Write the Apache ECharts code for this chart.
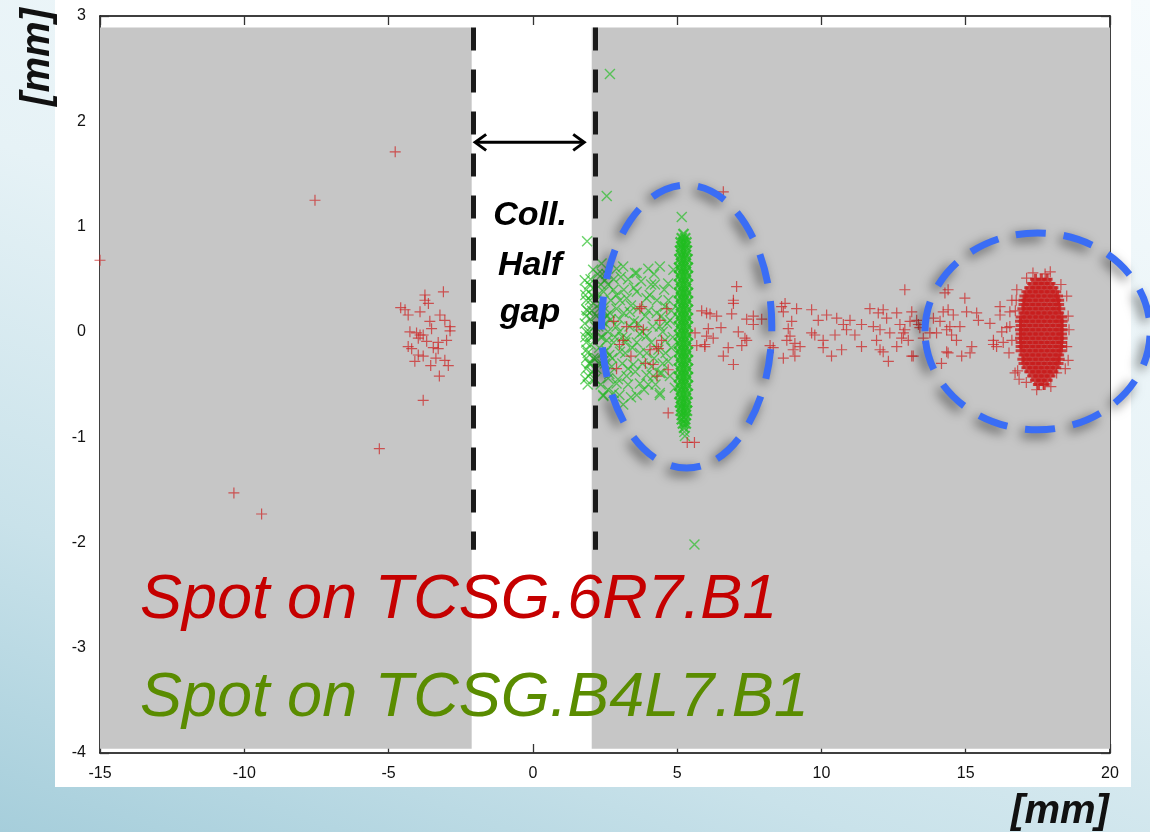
<!DOCTYPE html>
<html><head><meta charset="utf-8">
<script src="https://cdn.jsdelivr.net/npm/echarts/dist/echarts.min.js"></script>
<style>
html,body{margin:0;padding:0;width:1150px;height:832px;overflow:hidden;}
body{background:linear-gradient(200deg,#f6fbfd 0%,#e6f2f6 45%,#c9e2ea 75%,#a6cedb 100%);position:relative;}
#frame{position:absolute;left:55px;top:0;width:1076px;height:787px;background:#ffffff;}
#chart{position:absolute;left:0;top:0;width:1150px;height:832px;}
</style></head>
<body><div id="frame"></div><div id="chart"></div>
<script>
// ---- axis ranges / ticks ----
const xRange = [-15, 20, 5];
const yRange = [-4, 3, 1];

// ---- series: spot on TCSG.6R7.B1 (red +) : sparse points ----
const redPoints = [
 [-15.0,0.68],[-7.55,1.25],[-4.77,1.71],[-5.32,-1.11],[-10.36,-1.53],[-9.40,-1.73],[-3.80,-0.65],
 [-3.10,0.38],[-3.74,0.35],[-3.74,0.30],[-3.62,0.27],[-4.58,0.23],[-4.43,0.21],[-4.32,0.16],[-3.91,0.19],[-3.22,0.16],
 [-3.05,0.11],[-3.57,0.10],[-3.51,0.03],[-2.87,0.05],[-2.87,0.01],[-4.26,0.00],[-4.03,-0.01],[-3.91,-0.03],[-3.80,-0.03],
 [-3.97,-0.06],[-3.68,-0.09],[-2.99,-0.08],[-3.28,-0.10],[-4.32,-0.14],[-4.20,-0.16],[-3.45,-0.15],[-3.28,-0.16],
 [-3.97,-0.22],[-3.80,-0.23],[-3.36,-0.25],[-4.09,-0.28],[-3.05,-0.27],[-2.93,-0.32],[-3.54,-0.32],[-3.24,-0.42],
 [3.71,0.22],[3.83,0.02],[4.29,-0.14],[4.17,-0.31],[4.69,-0.36],[4.64,0.22],[4.40,0.11],[3.25,0.05],[3.13,-0.08],
 [4.06,-0.17],[4.46,-0.08],[4.35,-0.16],[3.77,0.24],[3.00,-0.12],[3.40,-0.23],[3.90,-0.30],[2.90,-0.35],[4.30,-0.42],
 [3.60,0.05],[2.80,0.10],[4.69,-0.77],[5.35,-1.05],[5.60,-1.05],[6.60,1.33],
 [7.06,0.43],[6.95,0.30],[6.95,0.27],[6.89,0.17],[5.85,0.20],[6.14,0.17],[6.37,0.15],[7.41,0.12],[7.64,0.15],[7.93,0.12],
 [7.64,0.07],[6.52,0.04],[6.08,0.03],[5.62,-0.01],[7.12,0.00],[6.02,-0.04],[6.25,-0.06],[7.35,-0.06],[7.41,-0.08],
 [5.68,-0.13],[5.96,-0.14],[7.24,-0.13],[6.77,-0.15],[8.22,-0.13],[6.60,-0.23],[6.95,-0.31],[8.62,0.24],[8.68,0.19],
 [8.68,-0.25],[8.33,-0.15],[6.02,0.18],[5.96,-0.12],
 [8.74,0.27],[9.14,0.22],[9.66,0.21],[8.97,0.10],[8.85,0.03],[8.91,-0.04],[8.80,-0.08],[9.08,-0.11],[9.26,-0.14],
 [9.02,-0.17],[9.08,-0.23],[9.66,-0.01],[9.77,-0.03],[9.89,0.11],[10.18,0.16],[10.06,-0.08],[10.06,-0.15],[10.47,-0.03],
 [10.53,0.13],[10.35,-0.23],[10.76,0.07],[10.99,0.11],[11.16,-0.03],[10.87,0.02],[10.70,-0.17],[11.39,0.07],[11.39,-0.14],
 [11.68,0.22],[11.80,0.05],[11.97,0.18],[12.14,0.21],[12.03,0.02],[11.91,-0.08],[12.03,-0.17],[12.14,-0.19],[12.32,-0.28],
 [12.26,0.13],[12.37,-0.01],[12.61,-0.14],[12.61,0.18],[12.72,0.07],[12.84,-0.01],[12.89,0.40],[12.78,-0.06],[13.13,0.19],
 [13.07,0.10],[13.30,0.11],[13.01,-0.08],[13.41,0.04],[13.53,-0.06],[13.13,-0.23],[13.88,0.13],[13.99,-0.01],[14.11,0.10],
 [14.22,0.19],[14.28,0.37],[14.39,0.40],[14.34,0.02],[14.34,-0.19],[14.16,-0.30],[14.57,0.16],[14.45,0.05],[14.51,-0.03],
 [14.68,-0.08],[14.80,0.05],[14.86,-0.23],[14.97,0.32],[15.03,0.19],[15.21,-0.14],[15.15,-0.20],[15.38,0.18],[15.44,0.11],
 [15.84,0.08],[15.96,-0.08],[16.07,-0.14],[16.19,0.24],[16.19,0.16],[16.53,0.19],[16.25,0.00],[16.42,0.04],
 [13.36,0.07],[12.89,0.02],[13.76,-0.01],[14.39,0.21],[15.96,-0.12],[13.18,-0.23],[14.39,-0.20],[16.30,-0.10],[16.50,-0.20],[16.60,0.30],
 [17.93,0.57],[17.33,0.56],[17.11,0.51],[18.50,0.34],[18.55,0.15],[18.55,-0.27],[18.50,-0.14],[16.77,0.40],[16.72,0.20],
 [16.71,-0.39],[16.80,-0.37],[17.46,-0.55],[17.69,-0.50],[17.10,-0.48],[18.15,-0.39],[16.53,0.05],[16.60,-0.08],
 [17.75,0.55],[18.30,0.45],[18.45,-0.35],[16.85,-0.45],[17.95,-0.52],[16.75,0.30],[18.58,0.02]
];
// dense spot of the red series, listed row by row: [y, [x values]]
const redCoreRows = [
 [0.50,[17.42,17.62,17.82]],
 [0.46,[17.32,17.52,17.72,17.92]],
 [0.42,[17.22,17.42,17.62,17.82,18.02]],
 [0.38,[17.12,17.32,17.52,17.72,17.92,18.12]],
 [0.34,[17.05,17.22,17.42,17.62,17.82,18.02,18.18]],
 [0.30,[17.02,17.12,17.32,17.52,17.72,17.92,18.12,18.22]],
 [0.26,[17.02,17.22,17.42,17.62,17.82,18.02,18.22]],
 [0.22,[16.98,17.12,17.32,17.52,17.72,17.92,18.12,18.26]],
 [0.18,[17.02,17.22,17.42,17.62,17.82,18.02,18.22]],
 [0.14,[16.92,17.12,17.32,17.52,17.72,17.92,18.12,18.32]],
 [0.10,[16.90,17.02,17.22,17.42,17.62,17.82,18.02,18.22,18.34]],
 [0.06,[16.92,17.12,17.32,17.52,17.72,17.92,18.12,18.32]],
 [0.02,[16.90,17.02,17.22,17.42,17.62,17.82,18.02,18.22,18.34]],
 [-0.02,[16.92,17.12,17.32,17.52,17.72,17.92,18.12,18.32]],
 [-0.06,[16.90,17.02,17.22,17.42,17.62,17.82,18.02,18.22,18.34]],
 [-0.10,[16.92,17.12,17.32,17.52,17.72,17.92,18.12,18.32]],
 [-0.14,[16.92,17.02,17.22,17.42,17.62,17.82,18.02,18.22,18.32]],
 [-0.18,[16.92,17.12,17.32,17.52,17.72,17.92,18.12,18.30]],
 [-0.22,[17.02,17.22,17.42,17.62,17.82,18.02,18.22]],
 [-0.26,[16.98,17.12,17.32,17.52,17.72,17.92,18.12,18.24]],
 [-0.30,[17.02,17.22,17.42,17.62,17.82,18.02,18.20]],
 [-0.34,[17.12,17.32,17.52,17.72,17.92,18.12]],
 [-0.38,[17.22,17.42,17.62,17.82,18.02]],
 [-0.42,[17.32,17.52,17.72,17.92]],
 [-0.46,[17.42,17.62,17.82]],
 [-0.50,[17.52,17.72]]
];

// ---- series: spot on TCSG.B4L7.B1 (green x) ----
const greenPoints = [
 [2.67,2.45],[2.56,1.29],[1.88,0.86],[5.16,1.09],[5.60,-2.02],[5.25,-0.95],[5.27,-0.99],
 [1.80,0.49],[2.09,0.59],[2.50,0.49],[3.13,0.62],[3.54,0.56],[4.00,0.60],[4.40,0.62],[4.87,0.59],[4.69,0.46],
 [2.79,0.40],[3.60,0.38],[4.23,0.45],[1.98,0.30],[2.33,0.27],[3.02,0.30],[3.94,0.32],[4.58,0.24],[1.86,0.21],
 [2.67,0.18],[3.36,0.19],[4.29,0.18],[1.80,0.08],[2.27,0.05],[2.90,0.05],[3.65,0.08],[4.40,0.05],[4.75,0.11],
 [1.98,-0.04],[2.56,-0.08],[3.25,-0.06],[3.94,-0.04],[4.58,-0.08],[1.86,-0.17],[2.44,-0.20],[3.02,-0.19],
 [3.71,-0.20],[4.35,-0.17],[1.98,-0.30],[2.73,-0.33],[3.48,-0.31],[4.12,-0.33],[4.69,-0.28],[1.92,-0.42],
 [2.61,-0.44],[3.25,-0.42],[3.94,-0.41],[4.40,-0.39],[2.44,-0.61],[3.13,-0.69],[4.40,-0.60],[4.92,-0.53],
 [2.90,-0.49],[3.71,-0.49],[3.60,0.56],[2.38,0.65],[4.40,-0.58],[2.44,-0.60],[4.17,-0.42],[4.46,-0.39],
 [1.85,0.40],[1.85,0.30],[1.85,0.15],[1.85,0.00],[1.85,-0.10],[1.85,-0.25],[1.85,-0.35],[1.90,-0.50],
 [1.95,0.45],[2.00,0.12],[2.00,-0.12],[2.05,0.35],[2.05,-0.38],
 [2.20,0.15],[2.40,0.10],[2.60,0.00],[2.80,-0.10],[3.00,0.12],[3.20,-0.20],[3.40,0.25],[2.50,-0.30],[2.70,0.30],
 [3.30,-0.35],[3.80,0.00],[4.00,0.20],[4.20,-0.25],[3.60,-0.10],[2.30,-0.15],[2.90,0.22],[3.10,-0.05],[3.50,0.10],
 [4.50,0.00],[4.80,-0.15],[4.70,0.30],[2.35,0.45],[2.15,-0.45],[2.55,0.55],[4.10,0.45],[3.85,-0.55],[2.80,-0.58],
 [3.40,-0.62],[2.20,-0.25],[2.45,0.20],[2.25,0.35],[2.65,-0.22],[3.15,0.40],[2.35,-0.05],[2.55,0.15],
 [2.10,0.42],[2.15,0.05],[2.20,-0.35],[2.25,0.55],[2.30,0.22],[2.35,-0.50],[2.40,-0.05],[2.45,0.38],[2.50,0.08],
 [2.55,-0.18],[2.60,0.45],[2.65,-0.40],[2.70,0.12],[2.75,-0.25],[2.80,0.50],[2.85,-0.05],[2.90,0.35],[2.95,-0.45],
 [3.00,0.00],[3.05,0.52],[3.10,-0.30],[3.15,0.18],[3.20,-0.10],[3.25,0.32],[3.30,-0.50],[3.35,0.05],[3.45,-0.15],
 [3.50,0.42],[3.55,-0.38],[3.65,0.22],[3.70,-0.02],[3.75,0.48],[3.80,-0.30],[3.90,0.15],[3.95,-0.20],[4.05,0.35],
 [4.10,-0.10],[4.15,0.05],[4.25,-0.50],[4.30,0.30],[4.45,0.15],[4.50,-0.30],[4.55,0.40],[4.60,-0.20],[4.65,0.08],
 [4.75,-0.42],[4.80,0.20],[4.85,-0.05],[1.90,0.20],[1.90,-0.20],[1.95,0.00],[1.95,-0.30],[2.00,0.50],[2.05,0.20],
 [2.05,-0.05],[2.10,-0.25],[1.82,0.35],[1.82,-0.05],[1.82,-0.45],[2.20,0.30],[2.30,-0.30],[2.40,0.55],[2.60,-0.55],
 [3.00,-0.60],[3.60,-0.60],[4.00,-0.50],[3.30,0.50],[2.90,0.60],[4.20,0.55]
];
// dense vertical band of the green series, row by row: [y, [x values]]
const greenBandRows = [
 [0.93,[5.22]],[0.89,[5.16,5.28]],[0.85,[5.12,5.22,5.32]],[0.81,[5.14,5.30]],[0.77,[5.10,5.22,5.34]],
 [0.73,[5.14,5.30]],[0.69,[5.08,5.22,5.36]],[0.65,[5.14,5.30]],[0.61,[5.07,5.22,5.37]],[0.57,[5.14,5.30]],
 [0.53,[5.07,5.22,5.37]],[0.49,[5.14,5.30]],[0.45,[5.07,5.22,5.37]],[0.41,[5.14,5.30]],[0.37,[5.07,5.22,5.37]],
 [0.33,[5.14,5.30]],[0.29,[5.07,5.22,5.37]],[0.25,[5.14,5.30]],[0.21,[5.07,5.22,5.37]],[0.17,[5.14,5.30]],
 [0.13,[5.07,5.22,5.37]],[0.09,[5.14,5.30]],[0.05,[5.07,5.22,5.37]],[0.01,[5.14,5.30]],[-0.03,[5.07,5.22,5.37]],
 [-0.07,[5.14,5.30]],[-0.11,[5.07,5.22,5.37]],[-0.15,[5.14,5.30]],[-0.19,[5.07,5.22,5.37]],[-0.23,[5.14,5.30]],
 [-0.27,[5.07,5.22,5.37]],[-0.31,[5.14,5.30]],[-0.35,[5.07,5.22,5.37]],[-0.39,[5.14,5.30]],[-0.43,[5.07,5.22,5.37]],
 [-0.47,[5.14,5.30]],[-0.51,[5.07,5.22,5.37]],[-0.55,[5.14,5.30]],[-0.59,[5.08,5.22,5.36]],[-0.63,[5.14,5.30]],
 [-0.67,[5.10,5.22,5.34]],[-0.71,[5.14,5.30]],[-0.75,[5.12,5.24,5.34]],[-0.79,[5.16,5.30]],[-0.83,[5.16,5.28]],
 [-0.87,[5.20,5.30]],[-0.91,[5.24]]
];

// ---- annotation geometry (data coordinates) ----
const jawLeft = -2.06, jawRight = 2.15, jawTop = 2.89, jawBottom = -2.07;
const grayTop = 2.89, grayBottom = -3.96, grayLeftEnd = -2.12, grayRightStart = 2.04;
const arrowY = 1.80, arrowX = [-2.0, 1.78];
const ellipses = [[5.33,0.05,2.95,1.344],[17.49,0.005,3.90,0.935]];

function rowsToPoints(rows){ const out=[]; rows.forEach(r=>r[1].forEach(x=>out.push([x,r[0]]))); return out; }

const PLUS = 'path://M0,5L10,5M5,0L5,10';
const CROSS = 'path://M0,0L10,10M10,0L0,10';
const RED = '#c81e1e', GREEN = '#20bd20';

const chart = echarts.init(document.getElementById('chart'), null, {renderer:'canvas'});
const axisCommon = {
  type:'value', splitLine:{show:false},
  axisLine:{show:true,onZero:false,lineStyle:{color:'#000',width:1.5}},
  axisTick:{show:true,inside:true,length:9,lineStyle:{color:'#333',width:1.3}}
};
const option = {
  backgroundColor:'transparent',
  animation:false,
  grid:{left:100,right:40,top:16,bottom:79,show:false},
  xAxis:[
    Object.assign({},axisCommon,{min:xRange[0],max:xRange[1],interval:xRange[2],position:'bottom',
      axisLabel:{color:'#111',fontSize:16,margin:13,fontFamily:'"Liberation Sans Narrow","Liberation Sans",Arial'}}),
    Object.assign({},axisCommon,{min:xRange[0],max:xRange[1],interval:xRange[2],position:'top',axisLabel:{show:false}})
  ],
  yAxis:[
    Object.assign({},axisCommon,{min:yRange[0],max:yRange[1],interval:yRange[2],position:'left',
      axisLabel:{color:'#111',fontSize:16,margin:14,fontFamily:'"Liberation Sans",Arial'}}),
    Object.assign({},axisCommon,{min:yRange[0],max:yRange[1],interval:yRange[2],position:'right',axisLabel:{show:false}})
  ],
  series:[
    {type:'scatter',data:[],z:1,silent:true,
     markArea:{silent:true,itemStyle:{color:'#c6c6c6'},label:{show:false},
       data:[[{coord:[xRange[0],grayTop]},{coord:[grayLeftEnd,grayBottom]}],
             [{coord:[grayRightStart,grayTop]},{coord:[xRange[1],grayBottom]}]]},
     markLine:{silent:true,symbol:['none','none'],label:{show:false},animation:false,
       lineStyle:{color:'#1a1a1a',width:5,type:[23,19]},
       data:[[{coord:[jawLeft,jawTop]},{coord:[jawLeft,jawBottom]}],
             [{coord:[jawRight,jawTop]},{coord:[jawRight,jawBottom]}]]}
    },
    {type:'scatter',name:'green',data:greenPoints,symbol:CROSS,symbolSize:10,z:3,silent:true,
     itemStyle:{color:'rgba(0,0,0,0)',borderColor:'rgba(36,190,36,0.85)',borderWidth:1.4}},
    {type:'scatter',name:'greenBand',data:rowsToPoints(greenBandRows),symbol:CROSS,symbolSize:10,z:3,silent:true,
     itemStyle:{color:'rgba(0,0,0,0)',borderColor:GREEN,borderWidth:2.2}},
    {type:'scatter',name:'red',data:redPoints,symbol:PLUS,symbolSize:11,z:4,silent:true,
     itemStyle:{color:'rgba(0,0,0,0)',borderColor:'rgba(205,35,35,0.9)',borderWidth:1.2}},
    {type:'scatter',name:'redCore',data:rowsToPoints(redCoreRows),symbol:PLUS,symbolSize:11,z:4,silent:true,
     itemStyle:{color:'rgba(0,0,0,0)',borderColor:RED,borderWidth:3}}
  ]
};
chart.setOption(option);

function px(p){ return chart.convertToPixel({xAxisIndex:0,yAxisIndex:0},p); }
const g = [];
ellipses.forEach(e=>{
  const c = px([e[0],e[1]]);
  const rx = px([e[0]+e[2],e[1]])[0]-c[0];
  const ry = c[1]-px([e[0],e[1]+e[3]])[1];
  g.push({type:'ellipse',z:50,silent:true,shape:{cx:c[0],cy:c[1],rx:rx,ry:ry},
    style:{fill:null,stroke:'#3a6df5',lineWidth:7,lineDash:[30,18],
      shadowBlur:12,shadowColor:'rgba(0,0,0,0.6)',shadowOffsetX:-4,shadowOffsetY:4}});
});
const a0 = px([arrowX[0],arrowY]), a1 = px([arrowX[1],arrowY]);
g.push({type:'line',z:50,silent:true,shape:{x1:a0[0]+1,y1:a0[1],x2:a1[0]-1,y2:a1[1]},style:{stroke:'#000',lineWidth:3}});
g.push({type:'polyline',z:50,silent:true,shape:{points:[[a0[0]+11,a0[1]-8],[a0[0],a0[1]],[a0[0]+11,a0[1]+8]]},style:{stroke:'#000',lineWidth:3,fill:null}});
g.push({type:'polyline',z:50,silent:true,shape:{points:[[a1[0]-11,a1[1]-8],[a1[0],a1[1]],[a1[0]-11,a1[1]+8]]},style:{stroke:'#000',lineWidth:3,fill:null}});
const gapFont = 'italic bold 34px "Liberation Sans", Arial';
[['Coll.',216],['Half',266],['gap',313]].forEach(t=>{
  g.push({type:'text',z:60,silent:true,x:530,y:t[1],style:{text:t[0],font:gapFont,fill:'#000',textAlign:'center',textVerticalAlign:'middle'}});
});
g.push({type:'text',z:60,silent:true,x:140,y:600,style:{text:'Spot on TCSG.6R7.B1',font:'italic 63px "Liberation Sans", Arial',fill:'#c50000',textAlign:'left',textVerticalAlign:'middle'}});
g.push({type:'text',z:60,silent:true,x:140,y:698,style:{text:'Spot on TCSG.B4L7.B1',font:'italic 63px "Liberation Sans", Arial',fill:'#5a8c00',textAlign:'left',textVerticalAlign:'middle'}});
g.push({type:'text',z:60,silent:true,x:38,y:57,rotation:Math.PI/2,style:{text:'[mm]',font:'italic bold 40px "Liberation Sans", Arial',fill:'#111',textAlign:'center',textVerticalAlign:'middle'}});
g.push({type:'text',z:60,silent:true,x:1060,y:812,style:{text:'[mm]',font:'italic bold 40px "Liberation Sans", Arial',fill:'#111',textAlign:'center',textVerticalAlign:'middle'}});
chart.setOption({graphic:g});
</script>
</body></html>
